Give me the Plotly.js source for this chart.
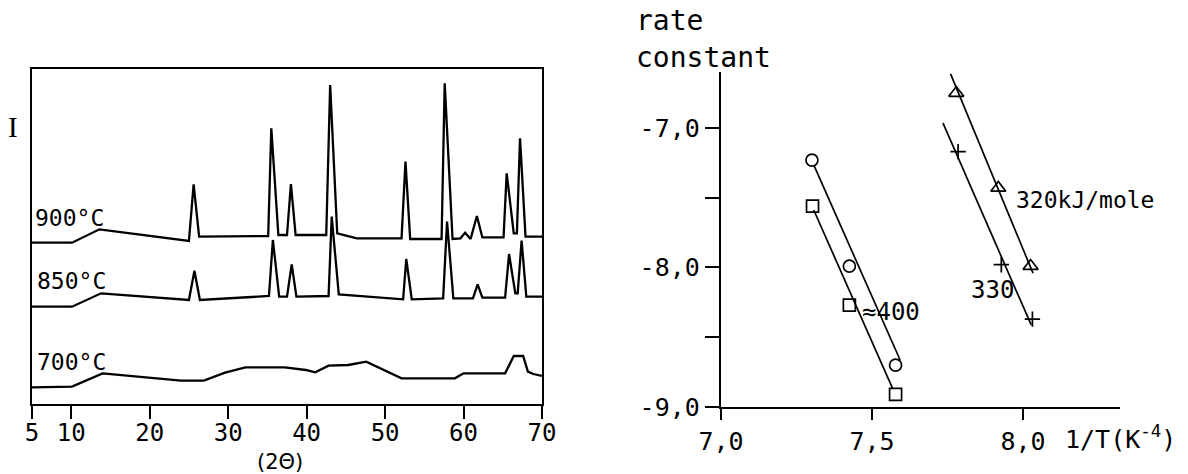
<!DOCTYPE html>
<html>
<head>
<meta charset="utf-8">
<script src="https://cdn.plot.ly/plotly-3.0.1.min.js"></script>
<style>
  html, body { margin: 0; padding: 0; background: #fff; }
  #chart { width: 1188px; height: 474px; }
</style>
</head>
<body>
<div id="chart"></div>
<script>
// ---------- Left panel: XRD patterns (2θ vs intensity, arbitrary units) ----------
const theta900 = [5.0,10.1,13.6,25.0,25.6,26.3,35.1,35.5,36.4,37.5,38.0,38.6,42.5,43.0,43.9,46.4,52.1,52.6,53.2,57.2,57.6,58.6,59.6,60.2,60.9,61.7,62.4,65.1,65.5,66.4,66.8,67.2,67.9,70.0];
const int900   = [48.4,48.4,52.4,48.9,65.9,50.2,50.4,82.7,50.7,50.7,66.0,50.7,50.7,95.7,51.2,49.7,49.7,72.7,49.5,49.5,96.2,49.5,49.7,51.4,49.5,56.4,50.0,50.0,69.2,51.2,51.2,79.7,50.2,50.2];

const theta850 = [5.0,10.1,13.8,25.0,25.7,26.4,35.2,35.7,36.5,37.5,38.1,38.7,42.8,43.2,44.1,52.3,52.7,53.4,57.4,57.9,58.7,61.2,61.8,62.4,65.3,65.8,66.6,66.9,67.4,68.0,70.0];
const int850   = [29.2,29.2,33.2,31.2,40.0,31.2,32.4,49.2,32.2,32.2,41.9,32.2,32.4,56.2,32.9,31.4,43.5,31.4,31.7,54.7,31.7,31.7,35.9,31.9,31.9,45.0,33.2,33.2,49.0,32.2,32.2];

const theta700 = [5.0,10.1,14.0,24.0,26.9,29.6,32.2,37.2,39.9,41.1,42.8,45.3,47.6,52.1,58.9,60.0,65.3,66.4,67.6,68.2,68.9,70.0];
const int700   = [5.0,5.2,9.2,7.0,7.0,9.4,11.0,11.0,10.2,9.5,11.5,11.7,12.7,7.7,7.7,9.2,9.2,14.4,14.4,9.7,9.0,8.4];

const xrdTickVals = [5,10,20,30,40,50,60,70];
const xrdTickText = ["5","10","20","30","40","50","60","70"];
const xrdLabels = ["900°C","850°C","700°C"];

// ---------- Right panel: Arrhenius plot ----------
const invTCircle = [7.301, 7.425, 7.578];
const kCircle    = [-7.23, -7.99, -8.70];
const invTSquare = [7.303, 7.425, 7.578];
const kSquare    = [-7.56, -8.27, -8.91];
const invTTri    = [7.779, 7.918, 8.025];
const kTri       = [-6.75, -7.43, -7.99];
const invTPlus   = [7.785, 7.928, 8.031];
const kPlus      = [-7.17, -7.98, -8.37];

// fitted lines (end points)
const fitCircleX = [7.307, 7.593], fitCircleY = [-7.265, -8.663];
const fitSquareX = [7.307, 7.568], fitSquareY = [-7.588, -8.866];
const fitTriX    = [7.760, 8.033], fitTriY    = [-6.613, -8.041];
const fitPlusX   = [7.735, 8.027], fitPlusY   = [-6.966, -8.412];

const arrXTickVals = [7.0, 7.5, 8.0];
const arrXTickText = ["7,0","7,5","8,0"];
const arrYTickVals = [-9.0, -8.0, -7.0];
const arrYTickText = ["-9,0","-8,0","-7,0"];
const arrYMinorVals = [-8.5, -7.5];

// ---------- Layout helpers ----------
const W = 1188, H = 474;
const px = v => v / W;
const py = v => 1 - v / H;
const MONO = "DejaVu Sans Mono";
const black = "#000";

const lineStyle = {color: black, width: 2.3};
const fitStyle = {color: black, width: 1.7};

const traces = [
  {x: theta900, y: int900, mode: "lines", line: lineStyle, xaxis: "x", yaxis: "y"},
  {x: theta850, y: int850, mode: "lines", line: lineStyle, xaxis: "x", yaxis: "y"},
  {x: theta700, y: int700, mode: "lines", line: lineStyle, xaxis: "x", yaxis: "y"},

  {x: fitCircleX, y: fitCircleY, mode: "lines", line: fitStyle, xaxis: "x2", yaxis: "y2"},
  {x: fitSquareX, y: fitSquareY, mode: "lines", line: fitStyle, xaxis: "x2", yaxis: "y2"},
  {x: fitTriX, y: fitTriY, mode: "lines", line: fitStyle, xaxis: "x2", yaxis: "y2"},
  {x: fitPlusX, y: fitPlusY, mode: "lines", line: fitStyle, xaxis: "x2", yaxis: "y2"},

  {x: invTCircle, y: kCircle, mode: "markers", xaxis: "x2", yaxis: "y2",
   marker: {symbol: "circle-open", size: 12, color: black, line: {width: 1.7, color: black}}},
  {x: invTSquare, y: kSquare, mode: "markers", xaxis: "x2", yaxis: "y2",
   marker: {symbol: "square-open", size: 12, color: black, line: {width: 1.7, color: black}}},
  {x: invTTri, y: kTri, mode: "markers", xaxis: "x2", yaxis: "y2",
   marker: {symbol: "triangle-up-open", size: 13, color: black, line: {width: 1.7, color: black}}},
  {x: invTPlus, y: kPlus, mode: "markers", xaxis: "x2", yaxis: "y2",
   marker: {symbol: "cross-thin-open", size: 11, color: black, line: {width: 1.7, color: black}}}
];

function ann(text, x, y, size, xanchor, family, yanchor) {
  return {text: text, x: px(x), y: py(y), xref: "paper", yref: "paper",
          xanchor: xanchor || "left", yanchor: yanchor || "middle", showarrow: false,
          font: {family: family || MONO, size: size, color: black}};
}

const layout = {
  width: W, height: H,
  margin: {l: 0, r: 0, t: 0, b: 0},
  paper_bgcolor: "#fff", plot_bgcolor: "#fff",
  showlegend: false,
  xaxis: {
    domain: [px(32), px(542)], range: [5, 70], anchor: "y",
    tickvals: xrdTickVals, ticktext: xrdTickText,
    ticks: "outside", ticklen: 13, tickwidth: 2, tickcolor: black,
    ticklabelstandoff: -7,
    showline: true, linewidth: 2.2, linecolor: black, mirror: true,
    showgrid: false, zeroline: false,
    tickfont: {family: MONO, size: 24, color: black}
  },
  yaxis: {
    domain: [py(404), py(69)], range: [0, 100.5], anchor: "x",
    showticklabels: false, ticks: "",
    showline: true, linewidth: 2.2, linecolor: black, mirror: true,
    showgrid: false, zeroline: false
  },
  xaxis2: {
    domain: [px(721), px(1120)], range: [7.0, 8.321], anchor: "y2",
    tickvals: arrXTickVals, ticktext: arrXTickText,
    ticks: "outside", ticklen: 11, tickwidth: 2, tickcolor: black,
    showline: true, linewidth: 2.2, linecolor: black,
    showgrid: false, zeroline: false,
    tickfont: {family: MONO, size: 25, color: black}
  },
  yaxis2: {
    domain: [py(407), py(72)], range: [-9.0, -6.599], anchor: "x2",
    tickvals: arrYTickVals, ticktext: arrYTickText,
    ticks: "outside", ticklen: 14, tickwidth: 2, tickcolor: black,
    minor: {tickvals: arrYMinorVals, ticks: "outside", ticklen: 14, tickwidth: 2, tickcolor: black, showgrid: false},
    showline: true, linewidth: 2.2, linecolor: black,
    showgrid: false, zeroline: false,
    tickfont: {family: MONO, size: 25, color: black}
  },
  annotations: [
    ann("I", 13, 127, 29, "center", "Liberation Serif"),
    ann(xrdLabels[0], 33, 218, 23),
    ann(xrdLabels[1], 35, 281, 23),
    ann(xrdLabels[2], 35, 362, 23),
    ann("(2Θ)", 280, 462, 21, "center", "DejaVu Sans"),
    ann("rate", 634, 39, 28, "left", MONO, "bottom"),
    ann("constant", 634, 39, 28, "left", MONO, "top"),
    ann("320kJ/mole", 1014, 200, 23),
    ann("≈400", 860, 312, 24),
    ann("330", 969, 290, 24),
    ann("1/T(K<sup>-4</sup>)", 1063, 437, 25)
  ]
};

Plotly.newPlot("chart", traces, layout, {displayModeBar: false, staticPlot: true});
</script>
</body>
</html>
